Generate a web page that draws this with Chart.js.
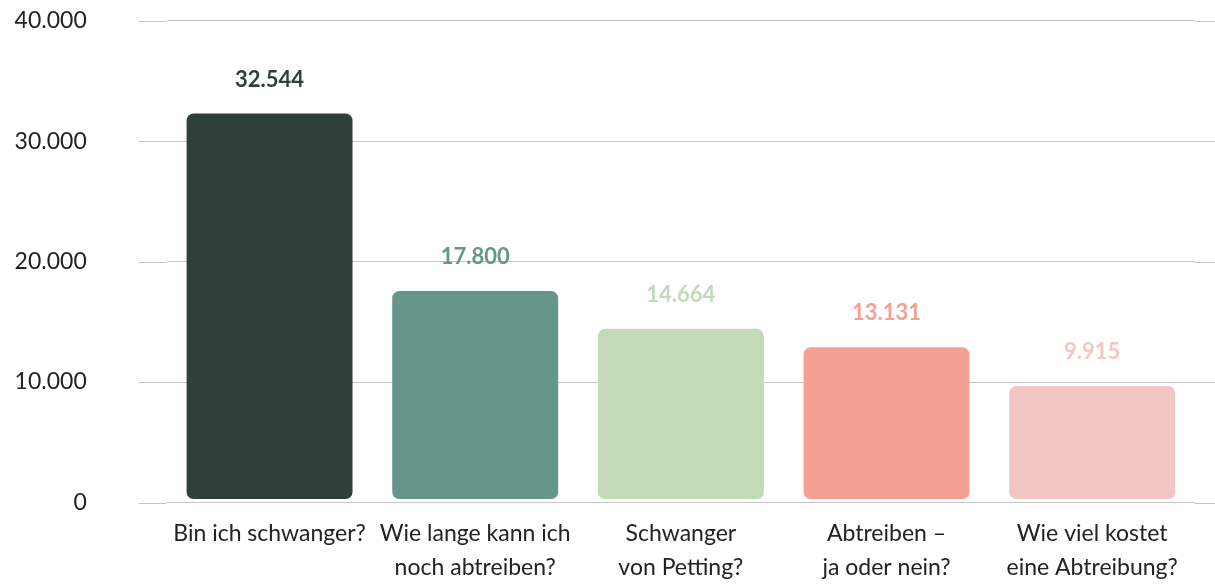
<!DOCTYPE html>
<html>
<head>
<meta charset="utf-8">
<script src="https://cdn.jsdelivr.net/npm/chart.js@4/dist/chart.umd.min.js"></script>
<style>
  html, body { margin: 0; padding: 0; background: #fff; }
  #wrap { width: 1215px; height: 584px; position: relative; }
</style>
</head>
<body>
<div id="wrap"><canvas id="c"></canvas></div>
<script>
const categories = [
  ['Bin ich schwanger?'],
  ['Wie lange kann ich', 'noch abtreiben?'],
  ['Schwanger', 'von Petting?'],
  ['Abtreiben –', 'ja oder nein?'],
  ['Wie viel kostet', 'eine Abtreibung?']
];
const values = [32544, 17800, 14664, 13131, 9915];
const barColors = ['#313F3A', '#66968A', '#C2DAB8', '#F4A093', '#F4C6C3'];
const yTicks = [0, 10000, 20000, 30000, 40000];

function fmt(v) {
  return String(v).replace(/\B(?=(\d{3})+(?!\d))/g, '.');
}

const FONT = 'Lato, "Open Sans", sans-serif';
const GRID = '#c4c4c4';

const valueLabels = {
  id: 'valueLabels',
  afterDatasetsDraw(chart) {
    const ctx = chart.ctx;
    const meta = chart.getDatasetMeta(0);
    ctx.save();
    ctx.font = 'bold 22px ' + FONT;
    ctx.textAlign = 'center';
    ctx.textBaseline = 'alphabetic';
    meta.data.forEach((bar, i) => {
      ctx.fillStyle = barColors[i];
      ctx.fillText(fmt(values[i]), bar.x, bar.y - 24);
    });
    ctx.restore();
  }
};

const gridExtend = {
  id: 'gridExtend',
  beforeDatasetsDraw(chart) {
    const ctx = chart.ctx;
    const y = chart.scales.y;
    const ca = chart.chartArea;
    ctx.save();
    ctx.strokeStyle = GRID;
    ctx.lineWidth = 1;
    y.ticks.forEach(t => {
      const py = Math.round(y.getPixelForValue(t.value)) + 0.5;
      ctx.beginPath();
      ctx.moveTo(ca.left - 28, py);
      ctx.lineTo(ca.left, py);
      ctx.moveTo(ca.right, py);
      ctx.lineTo(chart.width, py);
      ctx.stroke();
    });
    ctx.restore();
  }
};

new Chart(document.getElementById('c'), {
  type: 'bar',
  data: {
    labels: categories,
    datasets: [{
      data: values,
      backgroundColor: barColors,
      borderColor: 'rgba(0,0,0,0)',
      borderWidth: 3,
      borderSkipped: false,
      borderRadius: 10,
      categoryPercentage: 1,
      barPercentage: 0.836
    }]
  },
  options: {
    responsive: true,
    maintainAspectRatio: false,
    animation: false,
    layout: { padding: { left: 14.6, right: 20, top: 20.7, bottom: -14.5 } },
    plugins: { legend: { display: false }, tooltip: { enabled: false } },
    scales: {
      x: {
        grid: { display: false, drawTicks: false },
        border: { display: false },
        ticks: {
          color: '#222',
          font: { family: FONT, size: 23, lineHeight: 1.5 },
          padding: 13.5,
          maxRotation: 0,
          autoSkip: false
        }
      },
      y: {
        min: 0,
        max: 40000,
        afterBuildTicks(axis) { axis.ticks = yTicks.map(v => ({ value: v })); },
        grid: { color: GRID, tickLength: 80, tickColor: 'rgba(0,0,0,0)' },
        border: { display: false },
        ticks: {
          color: '#222',
          font: { family: FONT, size: 23 },
          padding: 0,
          callback: v => fmt(v)
        }
      }
    }
  },
  plugins: [valueLabels, gridExtend]
});
</script>
</body>
</html>
